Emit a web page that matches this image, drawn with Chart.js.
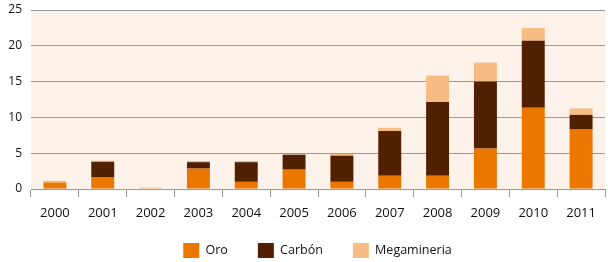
<!DOCTYPE html>
<html>
<head>
<meta charset="utf-8">
<script src="https://cdn.jsdelivr.net/npm/chart.js@4"></script>
<style>
  html, body { margin: 0; padding: 0; background: #fff; }
  #wrap { width: 608px; height: 262px; }
</style>
</head>
<body>
<div id="wrap"><canvas id="chart" width="608" height="262"></canvas></div>
<script>
const years = ['2000', '2001', '2002', '2003', '2004', '2005', '2006', '2007', '2008', '2009', '2010', '2011'];
const oro = [0.9, 1.6, 0, 2.85, 1.0, 2.7, 1.0, 1.85, 1.85, 5.65, 11.35, 8.3];
const carbon = [0, 2.2, 0, 0.9, 2.75, 2.1, 3.65, 6.25, 10.3, 9.35, 9.35, 2.05];
const megamineria = [0.25, 0.15, 0.2, 0.15, 0.15, 0, 0.25, 0.45, 3.7, 2.65, 1.8, 0.9];
const yTicks = [0, 5, 10, 15, 20, 25];

// peach fill behind the plot
const plotBg = {
  id: 'plotBg',
  beforeDraw(chart) {
    const { ctx, chartArea: a } = chart;
    ctx.save();
    ctx.fillStyle = '#fdf2ea';
    ctx.fillRect(a.left, a.top, a.right - a.left, a.bottom - a.top);
    ctx.restore();
  }
};

// keep the wide legend spacing but not its tall box
const legendFix = {
  id: 'legendFix',
  beforeInit(chart) {
    const lg = chart.legend;
    const fit = lg.fit.bind(lg);
    lg.fit = function () { fit(); this.height = 41; };
  },
  afterLayout(chart) {
    const lg = chart.legend;
    lg.top -= 8;
    lg.left += 15;
    lg.right += 15;
  }
};

const ctx = document.getElementById('chart').getContext('2d');
new Chart(ctx, {
  type: 'bar',
  data: {
    labels: years,
    datasets: [
      { label: 'Oro', data: oro, backgroundColor: '#ec7700' },
      { label: 'Carbón', data: carbon, backgroundColor: '#512000' },
      { label: 'Megamineria', data: megamineria, backgroundColor: '#f6bc84' }
    ]
  },
  options: {
    responsive: false,
    animation: false,
    layout: { padding: { left: 0, right: 3, top: 0, bottom: 0 } },
    datasets: { bar: { categoryPercentage: 1, barPercentage: 0.48 } },
    plugins: {
      legend: {
        position: 'bottom',
        labels: {
          color: '#111',
          font: { family: 'Open Sans', size: 12.5 },
          boxWidth: 16,
          boxHeight: 15,
          padding: 30
        }
      },
      tooltip: { enabled: false }
    },
    scales: {
      x: {
        stacked: true,
        afterFit: s => { s.height = 32; },
        grid: { drawOnChartArea: false, drawTicks: true, tickLength: 8, color: '#999' },
        border: { display: true, color: '#999' },
        ticks: { color: '#111', font: { family: 'Open Sans', size: 13 }, padding: 8 }
      },
      y: {
        stacked: true,
        min: 0,
        max: 25,
        afterBuildTicks: axis => { axis.ticks = yTicks.map(v => ({ value: v })); },
        afterFit: s => { s.width = 31; s.paddingTop = 10; s.paddingBottom = 4; },
        grid: { drawTicks: false, color: '#999', lineWidth: 1 },
        border: { display: false },
        ticks: { color: '#111', font: { family: 'Open Sans', size: 12 }, padding: 9 }
      }
    }
  },
  plugins: [plotBg, legendFix]
});
</script>
</body>
</html>
